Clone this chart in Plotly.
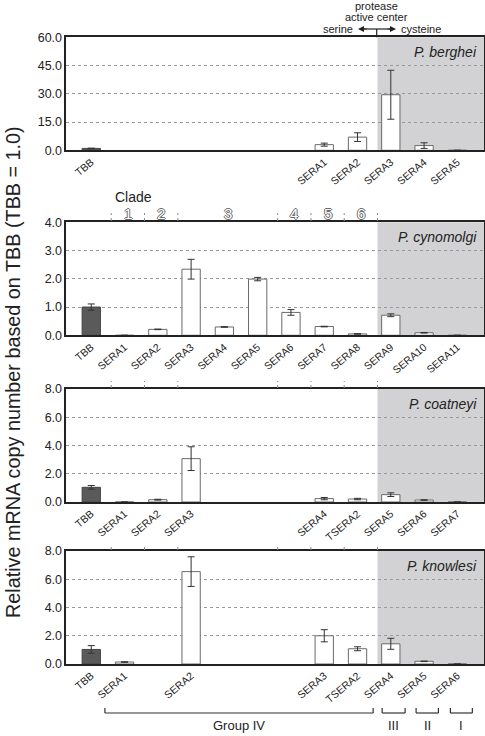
import plotly.graph_objects as go

W, H = 485, 736

# ---------------- data ----------------
berghei_genes = ["TBB", "SERA1", "SERA2", "SERA3", "SERA4", "SERA5"]
berghei_slot = [0, 7, 8, 9, 10, 11]
berghei_vals = [1.0, 3.0, 7.0, 29.5, 2.5, 0.0]
berghei_err = [0.15, 0.8, 2.3, 13.0, 1.5, 0.0]

cynomolgi_genes = ["TBB", "SERA1", "SERA2", "SERA3", "SERA4", "SERA5", "SERA6",
                   "SERA7", "SERA8", "SERA9", "SERA10", "SERA11"]
cynomolgi_slot = [0, 1, 2, 3, 4, 5, 6, 7, 8, 9, 10, 11]
cynomolgi_vals = [1.0, 0.0, 0.21, 2.34, 0.295, 1.99, 0.81, 0.31, 0.05, 0.71, 0.09, 0.0]
cynomolgi_err = [0.11, 0.0, 0.01, 0.35, 0.01, 0.06, 0.10, 0.01, 0.01, 0.05, 0.01, 0.0]

coatneyi_genes = ["TBB", "SERA1", "SERA2", "SERA3", "SERA4", "TSERA2", "SERA5", "SERA6", "SERA7"]
coatneyi_slot = [0, 1, 2, 3, 7, 8, 9, 10, 11]
coatneyi_vals = [1.04, 0.0, 0.165, 3.07, 0.24, 0.21, 0.52, 0.14, 0.0]
coatneyi_err = [0.13, 0.0, 0.03, 0.84, 0.08, 0.05, 0.13, 0.02, 0.0]

knowlesi_genes = ["TBB", "SERA1", "SERA2", "SERA3", "TSERA2", "SERA4", "SERA5", "SERA6"]
knowlesi_slot = [0, 1, 3, 7, 8, 9, 10, 11]
knowlesi_vals = [1.03, 0.14, 6.54, 2.0, 1.08, 1.43, 0.19, 0.0]
knowlesi_err = [0.27, 0.02, 1.05, 0.43, 0.14, 0.39, 0.02, 0.0]

species = ["P. berghei", "P. cynomolgi", "P. coatneyi", "P. knowlesi"]
y_max = [60, 4, 8, 8]
y_step = [15, 1, 2, 2]

clade_names = ["1", "2", "3", "4", "5", "6"]
clade_centers = [1.1, 2.1, 4.1, 6.1, 7.1, 8.1]
clade_dividers = [0.6, 1.6, 2.6, 5.6, 6.6, 7.6, 8.6]

group_names = ["Group IV", "III", "II", "I"]
group_start = [0.41, 8.74, 9.76, 10.79]
group_end = [8.47, 9.43, 10.43, 11.45]

FONT = "Liberation Sans, Arial, Helvetica, sans-serif"
XR = [-0.75, 11.8]
SHADE_X0 = 8.6

def px(x):
    return x / W

def py(y):
    return 1 - y / H

# panel pixel extents (top, bottom)
panels_px = [(37.3, 150.3), (222.3, 335.3), (389.0, 502.0), (551.0, 664.0)]
x_dom = [px(66.3), px(484.0)]

fig = go.Figure()
panels = [
    (berghei_genes, berghei_slot, berghei_vals, berghei_err),
    (cynomolgi_genes, cynomolgi_slot, cynomolgi_vals, cynomolgi_err),
    (coatneyi_genes, coatneyi_slot, coatneyi_vals, coatneyi_err),
    (knowlesi_genes, knowlesi_slot, knowlesi_vals, knowlesi_err),
]

shapes = []
annotations = []

def label(text, x, y, xref="paper", yref="paper", xanchor="center", yanchor="middle", **kw):
    annotations.append(dict(text=text, x=x, y=y, xref=xref, yref=yref,
                            xanchor=xanchor, yanchor=yanchor, showarrow=False, **kw))

for i, (genes, slots, vals, errs) in enumerate(panels):
    n = i + 1
    xa = "x" if n == 1 else f"x{n}"
    ya = "y" if n == 1 else f"y{n}"
    fills = ["#5a5a5a" if g == "TBB" else "white" for g in genes]
    lines = ["#444444" if g == "TBB" else "#6a6a6a" for g in genes]
    fig.add_trace(go.Bar(
        x=slots, y=vals, xaxis=xa, yaxis=ya, width=0.55,
        marker=dict(color=fills, line=dict(color=lines, width=1)),
        error_y=dict(type="data", array=errs, visible=True, color="#333333",
                     thickness=1, width=3.5),
        showlegend=False, hoverinfo="x+y",
    ))
    top, bot = panels_px[i]
    dom = [py(bot), py(top)]
    tv = [k * y_step[i] for k in range(int(y_max[i] / y_step[i]) + 1)]
    axis_common = dict(showline=True, mirror=True, linecolor="#222222", linewidth=1.5)
    fig.layout[("xaxis" if n == 1 else f"xaxis{n}")] = dict(
        domain=x_dom, range=XR, anchor=ya,
        tickmode="array", tickvals=slots, ticktext=genes, tickangle=-40,
        tickfont=dict(family=FONT, size=10.5, color="#222222"),
        showgrid=False, zeroline=False, ticks="", **axis_common,
    )
    fig.layout[("yaxis" if n == 1 else f"yaxis{n}")] = dict(
        domain=dom, range=[0, y_max[i]], anchor=xa,
        tickmode="array", tickvals=tv, tickformat=".1f",
        tickfont=dict(family=FONT, size=12.5, color="#222222"),
        showgrid=True, gridcolor="#9a9a9a", griddash="dot", gridwidth=1,
        zeroline=False, ticks="", **axis_common,
    )
    # shaded cysteine region
    shapes.append(dict(type="rect", xref=xa, yref=f"{ya} domain",
                       x0=SHADE_X0, x1=XR[1], y0=0, y1=1,
                       fillcolor="#d2d2d4", line=dict(width=0), layer="below"))
    # species label
    label(species[i], px(479), py(top + 5), xanchor="right", yanchor="top",
          font=dict(family=FONT, size=14, color="#222222", style="italic"))

# clade divider ticks above panels 2-4
for (t0, t1) in [(213, 221), (381, 388), (544, 550)]:
    for d in clade_dividers:
        shapes.append(dict(type="line", xref="x2", yref="paper", x0=d, x1=d,
                           y0=py(t1), y1=py(t0),
                           line=dict(color="#8a8a8a", width=1, dash="dot")))

# clade labels
label("Clade", px(133), py(197), font=dict(family=FONT, size=14, color="#222222"))
for name, c in zip(clade_names, clade_centers):
    label(name, c, py(213), xref="x2",
          font=dict(family=FONT, size=15, color="white",
                    shadow="-1px 0 #6a6a6a, 1px 0 #6a6a6a, 0 -1px #6a6a6a, 0 1px #6a6a6a"))

# protease active center annotation
bx = 376.7
shapes.append(dict(type="line", xref="paper", yref="paper", x0=px(bx), x1=px(bx),
                   y0=py(37.3), y1=py(29), line=dict(color="#222222", width=1.2)))
shapes.append(dict(type="line", xref="paper", yref="paper", x0=px(361), x1=px(393),
                   y0=py(29), y1=py(29), line=dict(color="#222222", width=1.2)))
annotations.append(dict(text="", xref="paper", yref="paper", x=px(358), y=py(29),
                        ax=10, ay=0, showarrow=True, arrowhead=2, arrowsize=1,
                        arrowwidth=1.2, arrowcolor="#222222"))
annotations.append(dict(text="", xref="paper", yref="paper", x=px(396), y=py(29),
                        ax=-10, ay=0, showarrow=True, arrowhead=2, arrowsize=1,
                        arrowwidth=1.2, arrowcolor="#222222"))
small = dict(family=FONT, size=11, color="#222222")
label("protease", px(bx), py(6.3), font=small)
label("active center", px(bx), py(17.3), font=small)
label("serine", px(355), py(28.5), xanchor="right", font=small)
label("cysteine", px(399), py(28.5), xanchor="left", font=small)

# group brackets under bottom panel
for name, s, e in zip(group_names, group_start, group_end):
    lc = dict(color="#333333", width=1.2)
    shapes.append(dict(type="line", xref="x4", yref="paper", x0=s, x1=e,
                       y0=py(713), y1=py(713), line=lc))
    shapes.append(dict(type="line", xref="x4", yref="paper", x0=s, x1=s,
                       y0=py(713), y1=py(708), line=lc))
    shapes.append(dict(type="line", xref="x4", yref="paper", x0=e, x1=e,
                       y0=py(713), y1=py(708), line=lc))
    label(name, (s + e) / 2, py(725), xref="x4",
          font=dict(family=FONT, size=13, color="#222222"))

# y-axis title
label("Relative mRNA copy number based on TBB (TBB = 1.0)", px(13), py(372),
      textangle=-90, font=dict(family=FONT, size=19.8, color="#222222"))

fig.update_layout(
    width=W, height=H,
    margin=dict(l=0, r=0, t=0, b=0, autoexpand=False),
    paper_bgcolor="white", plot_bgcolor="rgba(0,0,0,0)",
    shapes=shapes, annotations=annotations,
    bargap=0.45,
)

fig.write_html("out.html",
               config={"displayModeBar": False},
               post_script="document.body.style.margin='0';document.body.style.overflow='hidden';")
